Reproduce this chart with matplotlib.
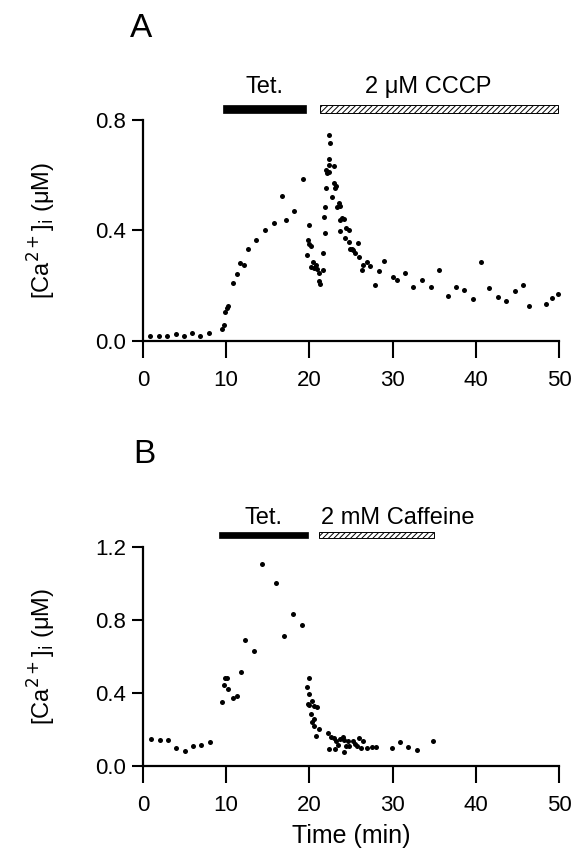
import numpy as np
import matplotlib
matplotlib.use('Agg')
from matplotlib import pyplot as plt
from matplotlib.patches import Rectangle

plt.rcParams['font.family'] = ['Liberation Sans', 'DejaVu Sans']
plt.rcParams['hatch.linewidth'] = 0.7

# Panel A: tetanus then 2 uM CCCP (time in min, [Ca2+]i in uM)
time_a = [0.9, 1.9, 2.9, 4.0, 4.9, 5.9, 6.9, 7.9, 9.5, 9.8, 9.9, 10.1, 10.2,
          10.8, 11.3, 11.7, 12.2, 12.6, 13.6, 14.7, 15.7, 16.7, 17.2, 18.2, 19.2,
          20.0, 19.8, 20.0, 20.2, 19.7, 20.4, 20.2, 20.5, 20.8, 20.9, 21.1, 21.6,
          21.1, 21.3, 21.6, 21.9, 21.8, 21.9, 22.0, 22.1, 22.0, 22.3, 22.4, 22.9,
          22.3, 22.5, 22.4, 22.9, 23.1, 22.7, 23.2, 23.3, 23.5, 23.7, 23.7, 23.9,
          24.1, 23.7, 24.4, 24.7, 24.3, 24.7, 24.9, 25.1, 25.3, 25.8, 25.5, 26.0,
          26.3, 26.4, 26.9, 27.3, 27.9, 28.4, 29.0, 30.0, 30.5, 31.5, 32.5, 33.5,
          34.6, 35.6, 36.6, 37.6, 38.6, 39.6, 40.6, 41.6, 42.7, 43.6, 44.7, 45.7,
          46.4, 48.4, 49.1, 49.9]
ca_a = [0.016, 0.016, 0.016, 0.024, 0.016, 0.030, 0.018, 0.028, 0.042, 0.058,
        0.103, 0.118, 0.127, 0.209, 0.241, 0.281, 0.275, 0.332, 0.366, 0.402,
        0.428, 0.525, 0.438, 0.472, 0.585, 0.420, 0.366, 0.350, 0.345, 0.311,
        0.287, 0.269, 0.263, 0.275, 0.259, 0.245, 0.257, 0.218, 0.206, 0.320,
        0.392, 0.448, 0.486, 0.555, 0.607, 0.617, 0.637, 0.613, 0.633, 0.746,
        0.716, 0.659, 0.571, 0.553, 0.520, 0.559, 0.486, 0.501, 0.489, 0.438,
        0.444, 0.440, 0.398, 0.408, 0.400, 0.372, 0.357, 0.333, 0.333, 0.329,
        0.354, 0.317, 0.302, 0.255, 0.275, 0.285, 0.271, 0.203, 0.253, 0.290,
        0.230, 0.221, 0.245, 0.194, 0.221, 0.194, 0.255, 0.163, 0.194, 0.185,
        0.151, 0.284, 0.193, 0.160, 0.146, 0.182, 0.203, 0.127, 0.133, 0.157,
        0.169]

# Panel B: tetanus then 2 mM caffeine
time_b = [1.0, 2.0, 3.0, 4.0, 5.0, 6.0, 7.0, 8.0, 9.5, 9.7, 9.9, 10.1, 10.2,
          10.8, 11.3, 11.8, 12.3, 13.3, 14.3, 16.0, 17.0, 18.0, 19.1,
          20.0, 19.7, 19.9, 19.8, 20.0, 20.3, 20.5, 20.9, 20.2, 20.5, 20.3, 20.6,
          21.2, 20.8, 22.2, 22.6, 22.3, 23.0, 23.2, 23.4, 23.7, 24.0, 24.2, 24.4,
          24.1, 23.1, 24.6, 24.8, 25.2, 25.5, 25.7, 26.0, 26.2, 26.4, 26.9, 27.5,
          28.0, 29.9, 30.9, 31.9, 32.9, 34.9]
ca_b = [0.146, 0.139, 0.142, 0.099, 0.082, 0.108, 0.113, 0.130, 0.349, 0.444,
        0.484, 0.484, 0.420, 0.371, 0.385, 0.515, 0.689, 0.632, 1.106, 1.003,
        0.714, 0.831, 0.771,
        0.483, 0.431, 0.391, 0.339, 0.334, 0.354, 0.327, 0.321, 0.286, 0.257,
        0.239, 0.217, 0.204, 0.165, 0.180, 0.158, 0.092, 0.150, 0.134, 0.115,
        0.146, 0.158, 0.139, 0.110, 0.073, 0.092, 0.134, 0.110, 0.134, 0.121,
        0.110, 0.152, 0.097, 0.134, 0.097, 0.103, 0.103, 0.099, 0.130, 0.105,
        0.088, 0.138]

# treatment periods (start, end) in min
tet_a = (9.6, 19.6)
cccp_a = (21.25, 49.9)
tet_b = (9.2, 19.8)
caff_b = (21.2, 35.0)

FS = 17

fig = plt.figure(figsize=(5.74, 8.48), dpi=100)
ax_a = fig.add_axes([0.249, 0.598, 0.725, 0.2606])
ax_b = fig.add_axes([0.249, 0.097, 0.725, 0.258])


def style_axes(ax, ymax, yticks):
    ax.set_xlim(0, 50)
    ax.set_ylim(0, ymax)
    ax.set_xticks([0, 10, 20, 30, 40, 50])
    ax.set_yticks(yticks)
    ax.set_yticklabels(['%.1f' % v for v in yticks])
    for s in ('top', 'right'):
        ax.spines[s].set_visible(False)
    for s in ('left', 'bottom'):
        ax.spines[s].set_linewidth(1.6)
    ax.tick_params(axis='x', direction='out', length=12, width=1.5, labelsize=16, pad=9)
    ax.tick_params(axis='y', direction='out', length=8, width=1.5, labelsize=16, pad=4)
    ax.set_ylabel('[Ca$^{2+}$]$_\\mathrm{i}$ (\u03bcM)', fontsize=FS)
    ax.yaxis.set_label_coords(-0.205, 0.5)


def bar(ax, span, y0, h, hatched):
    if hatched:
        r = Rectangle((span[0], y0), span[1] - span[0], h, facecolor='white',
                      edgecolor='black', hatch='//////', linewidth=0.7, clip_on=False)
    else:
        r = Rectangle((span[0], y0), span[1] - span[0], h, facecolor='black',
                      edgecolor='black', linewidth=0.5, clip_on=False)
    ax.add_patch(r)


# A
ax_a.plot(time_a, ca_a, 'o', color='black', markersize=3.6, markeredgewidth=0, clip_on=False)
style_axes(ax_a, 0.8, [0.0, 0.4, 0.8])
bar(ax_a, tet_a, 0.826, 0.027, False)
bar(ax_a, cccp_a, 0.826, 0.027, True)
ax_a.text(sum(tet_a) / 2, 0.899, 'Tet.', ha='center', va='baseline', fontsize=FS)
ax_a.text(34.3, 0.899, '2 \u03bcM CCCP', ha='center', va='baseline', fontsize=FS)
fig.text(0.246, 0.956, 'A', ha='center', va='baseline', fontsize=24)

# B
ax_b.plot(time_b, ca_b, 'o', color='black', markersize=3.6, markeredgewidth=0, clip_on=False)
style_axes(ax_b, 1.2, [0.0, 0.4, 0.8, 1.2])
bar(ax_b, tet_b, 1.249, 0.033, False)
bar(ax_b, caff_b, 1.249, 0.033, True)
ax_b.text(sum(tet_b) / 2, 1.326, 'Tet.', ha='center', va='baseline', fontsize=FS)
ax_b.text(21.4, 1.326, '2 mM Caffeine', ha='left', va='baseline', fontsize=FS)
ax_b.set_xlabel('Time (min)', fontsize=FS + 1, labelpad=6)
fig.text(0.251, 0.454, 'B', ha='center', va='baseline', fontsize=24)

fig.savefig('out.png', dpi=100)
